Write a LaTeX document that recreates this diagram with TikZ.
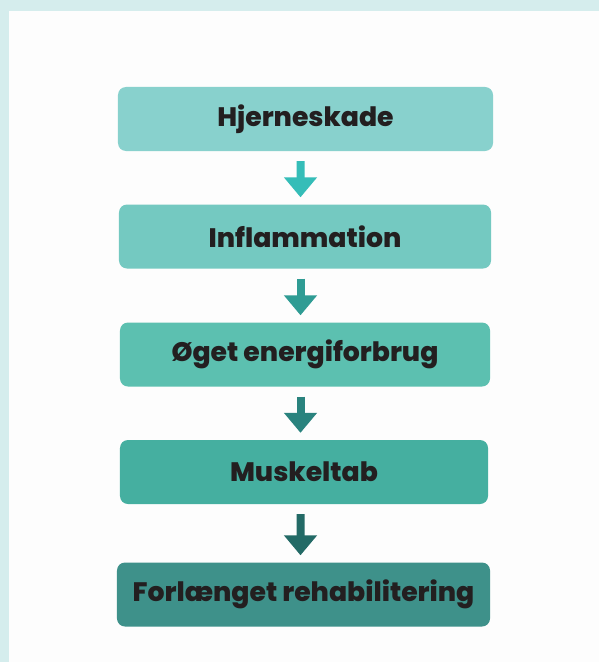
\documentclass[tikz,border=0pt]{standalone}
\usepackage{fontspec}
\setmainfont{Poppins}[BoldFont={Poppins ExtraBold}]
\usetikzlibrary{arrows.meta, positioning}
\definecolor{frameteal}{HTML}{D5EDED}
\definecolor{paper}{HTML}{FDFDFD}
\definecolor{boxA}{HTML}{88D1CD}
\definecolor{boxB}{HTML}{74C9C1}
\definecolor{boxC}{HTML}{5CC0B0}
\definecolor{boxD}{HTML}{45AFA0}
\definecolor{boxE}{HTML}{3E918A}
\definecolor{arrA}{HTML}{35BDB8}
\definecolor{arrB}{HTML}{2F9C94}
\definecolor{arrC}{HTML}{2A837E}
\definecolor{arrD}{HTML}{236A66}
\definecolor{ink}{HTML}{231F20}

\begin{document}
\begin{tikzpicture}[
      x=1bp, y=1bp, node distance=117.5bp, on grid,
      >={Triangle[width=32bp,length=20bp]},
      stage/.style={rounded corners=8bp, minimum height=64bp, inner sep=0pt,
        text=ink, font=\fontsize{26.8}{32}\selectfont\bfseries},
      flow/.style={->, line width=8bp, shorten <=10bp, shorten >=7bp}
      ]
      \fill[frameteal] (0,0) rectangle (599,-662);
      \fill[paper] (9,-11) rectangle (599,-662);

      \node[stage, fill=boxA, minimum width=375bp] (skade) at (305.5,-119) {Hjerneskade};
      \node[stage, fill=boxB, minimum width=372bp, below=of skade, xshift=-0.5bp] (inflam) {Inflammation};
      \node[stage, fill=boxC, minimum width=370bp, below=118bp of inflam] (energi) {Øget energiforbrug};
      \node[stage, fill=boxD, minimum width=368bp, below=of energi, xshift=-1bp] (muskel) {Muskeltab};
      \node[stage, fill=boxE, minimum width=373bp, below=122.5bp of muskel, xshift=-0.5bp] (rehab) {Forlænget rehabilitering};

      \draw[flow, arrA] ([xshift=-5bp]skade.south) -- ([xshift=-4.5bp]inflam.north);
      \draw[flow, arrB] ([xshift=-4.5bp]inflam.south) -- ([xshift=-4.5bp]energi.north);
      \draw[flow, arrC] ([xshift=-4.5bp]energi.south) -- ([xshift=-3.5bp]muskel.north);
      \draw[flow, arrD] ([xshift=-3.5bp]muskel.south) -- ([xshift=-3bp]rehab.north);
\end{tikzpicture}
\end{document}
